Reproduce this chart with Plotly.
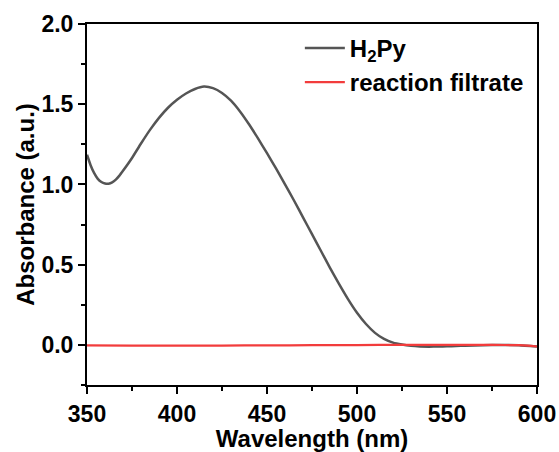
import plotly.graph_objects as go

# H2Py absorbance spectrum
wl_h2py = [350, 352, 354, 356, 358, 360, 362, 364, 366, 368, 370, 375, 380, 385, 390,
           395, 400, 405, 410, 415, 420, 425, 430, 435, 440, 445, 450, 455, 460, 465,
           470, 475, 480, 485, 490, 495, 500, 505, 510, 515, 520, 525, 530, 535, 540,
           545, 550, 555, 560, 570, 580, 590, 600]
abs_h2py = [1.185, 1.12, 1.07, 1.035, 1.015, 1.006, 1.005, 1.013, 1.03, 1.055, 1.085,
            1.165, 1.255, 1.34, 1.415, 1.478, 1.528, 1.567, 1.595, 1.61, 1.60, 1.57,
            1.522, 1.455, 1.375, 1.287, 1.195, 1.10, 1.00, 0.90, 0.795, 0.69, 0.585,
            0.48, 0.38, 0.285, 0.20, 0.13, 0.075, 0.037, 0.014, 0.002, -0.006, -0.01,
            -0.011, -0.01, -0.009, -0.007, -0.005, -0.002, 0.0, -0.002, -0.01]

# reaction filtrate spectrum
wl_filtrate = [350, 375, 400, 425, 450, 475, 500, 525, 550, 575, 590, 595, 600]
abs_filtrate = [-0.003, -0.004, -0.005, -0.004, -0.003, -0.002, -0.001, 0.0, 0.0, 0.0,
                -0.002, -0.005, -0.01]

x_ticks = [350, 400, 450, 500, 550, 600]
y_ticks = [0.0, 0.5, 1.0, 1.5, 2.0]
y_tick_labels = ["0.0", "0.5", "1.0", "1.5", "2.0"]

FONT = "Liberation Sans, Arial, sans-serif"

fig = go.Figure()
fig.add_trace(go.Scatter(x=wl_h2py, y=abs_h2py, mode="lines", name="H<sub>2</sub>Py",
                         line=dict(color="#555555", width=2.5, shape="spline", smoothing=0.5)))
fig.add_trace(go.Scatter(x=wl_filtrate, y=abs_filtrate, mode="lines", name="reaction filtrate",
                         line=dict(color="#f23c3c", width=2.2, shape="spline", smoothing=0.5)))

axis_common = dict(
    showline=True, linecolor="black", linewidth=2, mirror=True,
    ticks="outside", ticklen=7, tickwidth=2, tickcolor="black",
    showgrid=False, zeroline=False, automargin=False,
    tickfont=dict(family=FONT, size=23, color="black", weight="bold"),
)

fig.update_xaxes(
    range=[350, 600], tickvals=x_ticks,
    title=dict(text="Wavelength (nm)", font=dict(family=FONT, size=24, color="black", weight="bold"),
               standoff=4),
    minor=dict(ticks="outside", ticklen=4, tickwidth=2, tickcolor="black", dtick=25, showgrid=False),
    **axis_common,
)
fig.update_yaxes(
    range=[-0.25, 2.0], tickvals=y_ticks, ticktext=y_tick_labels,
    title=dict(text="Absorbance (a.u.)", font=dict(family=FONT, size=24, color="black", weight="bold"),
               standoff=0),
    minor=dict(ticks="outside", ticklen=4, tickwidth=2, tickcolor="black", dtick=0.25, showgrid=False),
    **axis_common,
)

fig.update_layout(
    width=559, height=452,
    margin=dict(l=87, r=22, t=24, b=67),
    plot_bgcolor="white", paper_bgcolor="white",
    legend=dict(x=0.473, y=0.995, xanchor="left", yanchor="top",
                font=dict(family=FONT, size=24, color="black", weight="bold"),
                bgcolor="rgba(0,0,0,0)", tracegroupgap=0, itemwidth=40),
    showlegend=True,
)

fig.write_html("out.html", config={"displayModeBar": False},
               post_script="document.body.style.margin='0';")
